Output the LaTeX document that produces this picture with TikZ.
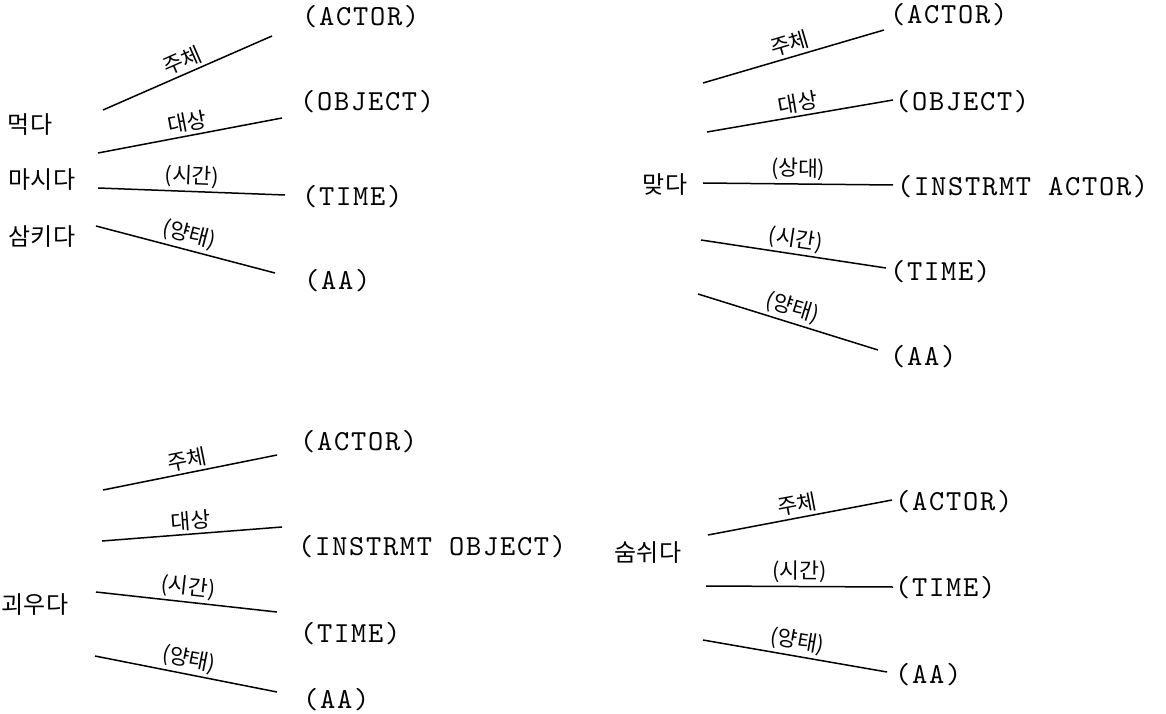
\documentclass[tikz,border=0pt]{standalone}
\usepackage{fontspec}
\newfontfamily\kr{Noto Sans CJK KR}
\newfontfamily\rolefont[LetterSpace=6]{lmmono10-regular.otf}
\begin{document}
\begin{tikzpicture}[x=1pt,y=-1pt,
  verb/.style={font=\kr\fontsize{24}{26}\selectfont,inner sep=0pt},
  role/.style={anchor=west,inner sep=0pt,font=\rolefont\fontsize{29}{32}\selectfont},
  case/.style={font=\kr\fontsize{21.5}{24}\selectfont,sloped,above,inner sep=3pt},
  link/.style={line width=1.5pt}]
\useasboundingbox (0,0) rectangle (1166,714);

% top left
\node[verb] (mukda) at (30,125) {먹다};
\node[verb] (masida) at (42,180) {마시다};
\node[verb] (samkida) at (42,237) {삼키다};
\foreach \sx/\sy/\ex/\ey/\lab [count=\i] in
  {103/110/272/36/{주체}, 98/153/282/118/{대상}, 98/188/285/195/{(시간)}, 96/226/275/273/{(양태)}}{
  \coordinate (tl-s\i) at (\sx,\sy);
  \coordinate (tl-e\i) at (\ex,\ey);
  \draw[link] (tl-s\i) -- node[case] (tl-c\i) {\lab} (tl-e\i);
}
\node[role] (tl-actor) at (302,17) {(ACTOR)};
\node[role] (tl-object) at (300,102) {(OBJECT)};
\node[role] (tl-time) at (302,197) {(TIME)};
\node[role] (tl-aa) at (304,281) {(AA)};

% top right
\node[verb] (matda) at (665,185) {맞다};
\foreach \sx/\sy/\ex/\ey/\lab [count=\i] in
  {703/83/884/30/{주체}, 707/132/893/100/{대상}, 703/183/893/185/{(상대)}, 701/240/886/268/{(시간)}, 698/294/878/350/{(양태)}}{
  \coordinate (tr-s\i) at (\sx,\sy);
  \coordinate (tr-e\i) at (\ex,\ey);
  \draw[link] (tr-s\i) -- node[case] (tr-c\i) {\lab} (tr-e\i);
}
\node[role] (tr-actor) at (890,15) {(ACTOR)};
\node[role] (tr-object) at (895,102) {(OBJECT)};
\node[role] (tr-instr) at (897,187) {(INSTRMT ACTOR)};
\node[role] (tr-time) at (890,272) {(TIME)};
\node[role] (tr-aa) at (890,357) {(AA)};

% bottom left
\node[verb] (kwiuda) at (35,605) {괴우다};
\foreach \sx/\sy/\ex/\ey/\lab [count=\i] in
  {103/490/277/455/{주체}, 102/541/282/527/{대상}, 96/592/277/612/{(시간)}, 95/656/277/692/{(양태)}}{
  \coordinate (bl-s\i) at (\sx,\sy);
  \coordinate (bl-e\i) at (\ex,\ey);
  \draw[link] (bl-s\i) -- node[case] (bl-c\i) {\lab} (bl-e\i);
}
\node[role] (bl-actor) at (300,442) {(ACTOR)};
\node[role] (bl-instr) at (298,547) {(INSTRMT OBJECT)};
\node[role] (bl-time) at (300,634) {(TIME)};
\node[role] (bl-aa) at (303,700) {(AA)};

% bottom right
\node[verb] (sumswida) at (648,553) {숨쉬다};
\foreach \sx/\sy/\ex/\ey/\lab [count=\i] in
  {708/535/892/500/{주체}, 706/586/893/587/{(시간)}, 703/640/887/672/{(양태)}}{
  \coordinate (br-s\i) at (\sx,\sy);
  \coordinate (br-e\i) at (\ex,\ey);
  \draw[link] (br-s\i) -- node[case] (br-c\i) {\lab} (br-e\i);
}
\node[role] (br-actor) at (895,502) {(ACTOR)};
\node[role] (br-time) at (895,588) {(TIME)};
\node[role] (br-aa) at (895,675) {(AA)};
\end{tikzpicture}
\end{document}
